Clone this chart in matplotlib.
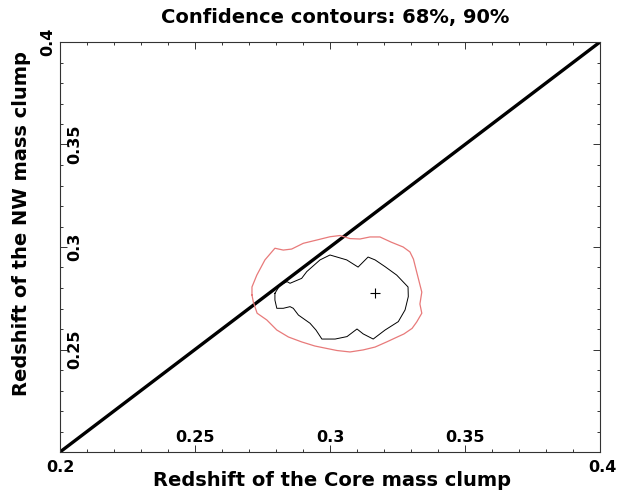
import numpy as np
import matplotlib
matplotlib.use("Agg")
import matplotlib.pyplot as plt
from matplotlib.ticker import MultipleLocator

# 68% contour (black)
c68_x = [0.2796, 0.2815, 0.2841, 0.2852, 0.2895, 0.2914, 0.2963, 0.3000, 0.3062, 0.3104,
         0.3141, 0.3167, 0.3204, 0.3247, 0.3289, 0.3290, 0.3278, 0.3253, 0.3204, 0.3160,
         0.3123, 0.3100, 0.3063, 0.3019, 0.2970, 0.2948, 0.2926, 0.2883, 0.2864, 0.2852,
         0.2827, 0.2803, 0.2796]
c68_y = [0.2774, 0.2815, 0.2831, 0.2823, 0.2847, 0.2880, 0.2937, 0.2961, 0.2937, 0.2902,
         0.2951, 0.2937, 0.2904, 0.2863, 0.2805, 0.2758, 0.2693, 0.2636, 0.2595, 0.2551,
         0.2576, 0.2600, 0.2563, 0.2551, 0.2551, 0.2595, 0.2628, 0.2668, 0.2701, 0.2709,
         0.2701, 0.2701, 0.2741]

# 90% contour (red)
c90_x = [0.2711, 0.2711, 0.2729, 0.2759, 0.2796, 0.2827, 0.2858, 0.2901, 0.2951, 0.3000,
         0.3037, 0.3074, 0.3111, 0.3148, 0.3185, 0.3226, 0.3271, 0.3296, 0.3309, 0.3322,
         0.3340, 0.3333, 0.3340, 0.3321, 0.3304, 0.3274, 0.3241, 0.3210, 0.3167, 0.3123,
         0.3074, 0.3026, 0.2981, 0.2944, 0.2895, 0.2846, 0.2803, 0.2766, 0.2730, 0.2716]
c90_y = [0.2766, 0.2805, 0.2863, 0.2937, 0.2994, 0.2985, 0.2990, 0.3018, 0.3034, 0.3050,
         0.3056, 0.3041, 0.3039, 0.3049, 0.3049, 0.3024, 0.3000, 0.2976, 0.2941, 0.2873,
         0.2780, 0.2722, 0.2677, 0.2634, 0.2603, 0.2576, 0.2556, 0.2537, 0.2512, 0.2498,
         0.2488, 0.2495, 0.2507, 0.2517, 0.2537, 0.2561, 0.2595, 0.2644, 0.2677, 0.2732]

best_fit = (0.3167, 0.2776)
z_range = [0.2, 0.4]
inner_ticks = [0.25, 0.3, 0.35]
inner_labels = ["0.25", "0.3", "0.35"]

plt.rcParams['font.family'] = 'DejaVu Sans'
plt.rcParams['font.weight'] = 'bold'

fig = plt.figure(figsize=(6.35, 4.92), dpi=100)
ax = fig.add_axes([60 / 635, 40 / 492, 540 / 635, 410 / 492])

# equal-redshift line
ax.plot(z_range, z_range, color='black', lw=2.4, solid_capstyle='round')

# contours, closed
ax.plot(c90_x + c90_x[:1], c90_y + c90_y[:1], color='#e87a7a', lw=0.9)
ax.plot(c68_x + c68_x[:1], c68_y + c68_y[:1], color='black', lw=0.7)
ax.plot(*best_fit, marker='+', color='black', ms=7, mew=0.8)

ax.set_xlim(z_range)
ax.set_ylim(z_range)

for axis in (ax.xaxis, ax.yaxis):
    axis.set_major_locator(MultipleLocator(0.05))
    axis.set_minor_locator(MultipleLocator(0.01))
ax.tick_params(which='both', direction='in', top=True, right=True,
               labelbottom=False, labelleft=False, width=0.7, color='#333333')
ax.tick_params(which='major', length=5)
ax.tick_params(which='minor', length=2.5)
for s in ax.spines.values():
    s.set_linewidth(0.8)
    s.set_color('#333333')

tick_fs = 11.5
# tick labels drawn inside the frame
for v, lab in zip(inner_ticks, inner_labels):
    ax.annotate(lab, xy=(v, 0), xycoords=('data', 'axes fraction'),
                xytext=(0, 10.8), textcoords='offset points',
                ha='center', va='center', fontsize=tick_fs, fontweight='bold')
    ax.annotate(lab, xy=(0, v), xycoords=('axes fraction', 'data'),
                xytext=(10.8, 0), textcoords='offset points', rotation=90,
                ha='center', va='center', fontsize=tick_fs, fontweight='bold')

# corner labels outside the frame
ax.annotate("0.2", xy=(0, 0), xycoords='axes fraction', xytext=(0, -11.5),
            textcoords='offset points', ha='center', va='center',
            fontsize=tick_fs, fontweight='bold')
ax.annotate("0.4", xy=(1, 0), xycoords='axes fraction', xytext=(1.5, -11.5),
            textcoords='offset points', ha='center', va='center',
            fontsize=tick_fs, fontweight='bold')
ax.annotate("0.4", xy=(0, 1), xycoords='axes fraction', xytext=(-8.5, 0),
            textcoords='offset points', rotation=90, ha='center', va='center',
            fontsize=tick_fs, fontweight='bold')

fig.text(335 / 635, 1 - 18 / 492, "Confidence contours: 68%, 90%",
         ha='center', va='center', fontsize=14, fontweight='bold')
fig.text(332 / 635, 1 - 481 / 492, "Redshift of the Core mass clump",
         ha='center', va='center', fontsize=14, fontweight='bold')
fig.text(22 / 635, 1 - 224 / 492, "Redshift of the NW mass clump",
         ha='center', va='center', rotation=90, fontsize=14, fontweight='bold')

fig.savefig("out.png", dpi=100)
